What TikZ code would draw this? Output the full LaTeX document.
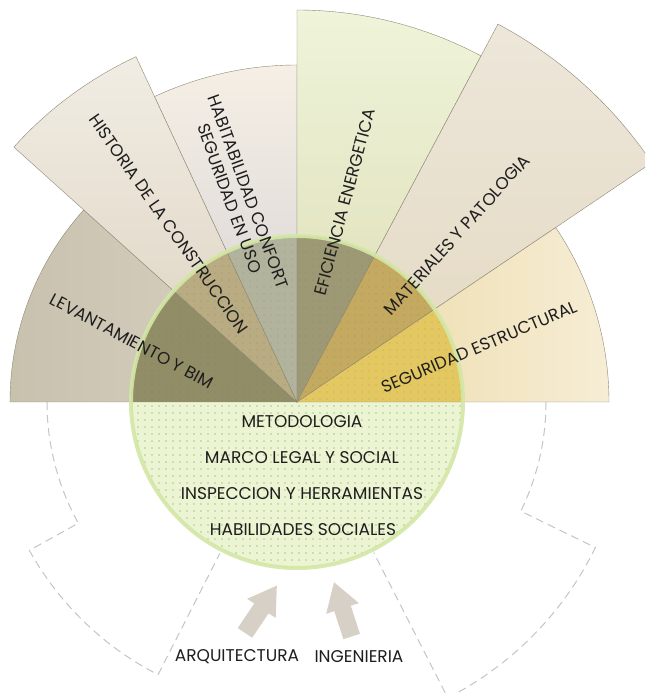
\documentclass[tikz,border=0pt]{standalone}
\usepackage{fontspec}
\setmainfont{Poppins}
\usepackage{xcolor}
\usetikzlibrary{shapes.arrows}

\definecolor{sectorline}{HTML}{8E8874}
\definecolor{levout}{HTML}{C8C1AE}
\definecolor{levoutb}{HTML}{DAD3C3}
\definecolor{hisout}{HTML}{F1EDE4}
\definecolor{hisoutb}{HTML}{DCD1BE}
\definecolor{habout}{HTML}{F5EFE5}
\definecolor{haboutb}{HTML}{D4D0D3}
\definecolor{efiout}{HTML}{EFF4DA}
\definecolor{efioutb}{HTML}{DCDCB3}
\definecolor{matout}{HTML}{EDE7DA}
\definecolor{matoutb}{HTML}{E3D8C1}
\definecolor{segout}{HTML}{EBD8A2}
\definecolor{segoutb}{HTML}{F6EDD5}
\definecolor{levin}{HTML}{918D66}
\definecolor{hisin}{HTML}{B9AB82}
\definecolor{habin}{HTML}{B2B39C}
\definecolor{efiin}{HTML}{9D9975}
\definecolor{matin}{HTML}{C4A960}
\definecolor{segin}{HTML}{E3C760}
\definecolor{corefill}{HTML}{ECF5D3}
\definecolor{corerim}{HTML}{D3E7A6}
\definecolor{dotdark}{HTML}{6F6B48}
\definecolor{dotlight}{HTML}{B3C68A}
\definecolor{dashgray}{HTML}{C4C4C4}
\definecolor{arrowgray}{HTML}{D6D0C6}
\definecolor{labeltext}{HTML}{1E1E1E}

\begin{document}
\begin{tikzpicture}[x=1pt,y=1pt,
sector/.style={draw=sectorline,line width=0.4pt},
label/.style={font=\fontsize{17}{20}\selectfont,text=labeltext,inner sep=0pt,align=center},
outline/.style={draw=dashgray,line width=1pt,dash pattern=on 8pt off 5pt},
blockarrow/.style={single arrow,fill=arrowgray,inner xsep=0pt,inner ysep=8.5pt,minimum width=34pt,
    minimum height=57pt,single arrow head extend=8.5pt,single arrow head indent=0pt,
    single arrow tip angle=64}]
\useasboundingbox (-297,-291) rectangle (348,402);
\clip (-297,-291) rectangle (348,402);

% fan
\shade[sector,left color=levout,right color=levoutb]
    (0,0) -- (180:287) arc[start angle=180,end angle=138,radius=287] -- cycle;
\shade[sector,top color=hisout,bottom color=hisoutb]
    (0,0) -- (138:381) arc[start angle=138,end angle=115,radius=381] -- cycle;
\shade[sector,top color=habout,bottom color=haboutb]
    (0,0) -- (115:337) arc[start angle=115,end angle=90,radius=337] -- cycle;
\shade[sector,top color=efiout,bottom color=efioutb]
    (0,0) -- (90:392) arc[start angle=90,end angle=62,radius=392] -- cycle;
\shade[sector,top color=matout,bottom color=matoutb]
    (0,0) -- (62:428) arc[start angle=62,end angle=34,radius=428] -- cycle;
\shade[sector,left color=segout,right color=segoutb]
    (0,0) -- (34:312) arc[start angle=34,end angle=0,radius=312] -- cycle;

% core circle
\begin{scope}
\clip (0,0) circle (166);
\fill[corefill] (-170,-170) rectangle (170,0);
\filldraw[sector,fill=levin] (0,0) -- (180:200) arc[start angle=180,end angle=138,radius=200] -- cycle;
\filldraw[sector,fill=hisin] (0,0) -- (138:200) arc[start angle=138,end angle=115,radius=200] -- cycle;
\filldraw[sector,fill=habin] (0,0) -- (115:200) arc[start angle=115,end angle=90,radius=200] -- cycle;
\filldraw[sector,fill=efiin] (0,0) -- (90:200) arc[start angle=90,end angle=62,radius=200] -- cycle;
\filldraw[sector,fill=matin] (0,0) -- (62:200) arc[start angle=62,end angle=34,radius=200] -- cycle;
\filldraw[sector,fill=segin] (0,0) -- (34:200) arc[start angle=34,end angle=0,radius=200] -- cycle;
\foreach \i in {-24,...,24}
  \foreach \j in {-24,...,24} {
    \ifnum\j<0
      \fill[dotlight] (\i*7+2,\j*7+3) circle (0.8);
    \else
      \fill[dotdark,opacity=0.35] (\i*7+2,\j*7+3) circle (0.7);
    \fi
  }
\end{scope}
\draw[corerim,line width=4pt,opacity=0.9] (0,0) circle (166);

% dashed outlines
\draw[outline] (180:250) arc[start angle=180,end angle=209,radius=250]
    -- (209:306) arc[start angle=209,end angle=243,radius=306] -- (243:170);
\draw[outline] (0:249) arc[start angle=360,end angle=334,radius=249]
    -- (334:332) arc[start angle=334,end angle=297,radius=332] -- (297:169);

% sector labels
\node[label,rotate=-28] (levantamiento) at (-165,61) {LEVANTAMIENTO Y BIM};
\node[label,rotate=-55] (historia) at (-128,178) {HISTORIA DE LA CONSTRUCCION};
\node[label,rotate=-70] (habitabilidad) at (-58,207) {HABITABILIDAD CONFORT\\SEGURIDAD EN USO};
\node[label,rotate=75] (eficiencia) at (48,200) {EFICIENCIA ENERGETICA};
\node[label,rotate=48] (materiales) at (160,167) {MATERIALES Y PATOLOGIA};
\node[label,rotate=23] (seguridad) at (182,55) {SEGURIDAD ESTRUCTURAL};

% core labels
\node[label] (metodologia) at (5,-20) {METODOLOGIA};
\node[label] (marco) at (5,-56) {MARCO LEGAL Y SOCIAL};
\node[label] (inspeccion) at (5,-92) {INSPECCION Y HERRAMIENTAS};
\node[label] (habilidades) at (6,-128) {HABILIDADES SOCIALES};

% disciplines
\node[label] (arquitectura) at (-60,-255) {ARQUITECTURA};
\node[label] (ingenieria) at (62,-255) {INGENIERIA};
\node[blockarrow,rotate=56] (arqarrow) at (-40,-213) {};
\node[blockarrow,rotate=108] (ingarrow) at (48,-214) {};
\end{tikzpicture}
\end{document}
